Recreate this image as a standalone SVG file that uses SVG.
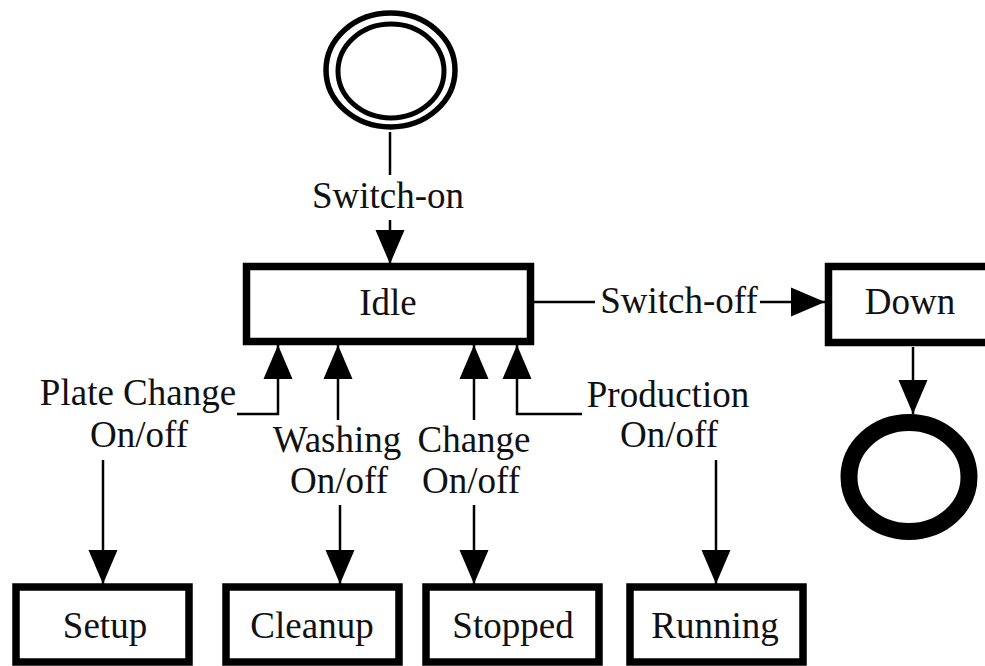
<svg xmlns="http://www.w3.org/2000/svg" width="985" height="666" viewBox="0 0 985 666">
<style>
text{font-family:"Liberation Serif","Times New Roman",serif;font-size:37px;fill:#111;text-anchor:middle}
.box{fill:#fff;stroke:#000;stroke-width:7.5}
.c{fill:none;stroke:#000;stroke-width:2.5}
.a{marker-end:url(#ah)}
</style>
<defs>
<marker id="ah" markerUnits="userSpaceOnUse" markerWidth="34" markerHeight="30" refX="34" refY="14.5" orient="auto" viewBox="0 0 34 29">
<path d="M0,0 L34,14.5 L0,29 z" fill="#000"/>
</marker>
</defs>
<rect width="985" height="666" fill="#fff"/>
<g id="connectors">
<line class="c" x1="390" y1="132" x2="390" y2="175"/>
<line class="c a" x1="390" y1="220" x2="390" y2="264"/>
<line class="c" x1="534" y1="302" x2="595" y2="302"/>
<line class="c a" x1="760" y1="302" x2="825" y2="302"/>
<line class="c a" x1="913" y1="347" x2="913" y2="414"/>
<polyline class="c a" points="237,414 278,414 278,345"/>
<line class="c a" x1="103" y1="460" x2="103" y2="584"/>
<line class="c a" x1="338" y1="420" x2="338" y2="345"/>
<line class="c a" x1="340" y1="505" x2="340" y2="584"/>
<line class="c a" x1="474" y1="420" x2="474" y2="345"/>
<line class="c a" x1="474" y1="505" x2="474" y2="584"/>
<polyline class="c a" points="582,414 517,414 517,345"/>
<line class="c a" x1="716" y1="460" x2="716" y2="584"/>
<text x="388" y="208">Switch-on</text>
<text x="679" y="313">Switch-off</text>
<text x="138" y="405">Plate Change</text>
<text x="139" y="447">On/off</text>
<text x="337" y="452">Washing</text>
<text x="339" y="493">On/off</text>
<text x="474" y="452">Change</text>
<text x="471" y="493">On/off</text>
<text x="668" y="407">Production</text>
<text x="669" y="447">On/off</text>
</g>
<g id="initial">
<ellipse cx="390.5" cy="70" rx="64.5" ry="57" fill="none" stroke="#000" stroke-width="5.5"/>
<ellipse cx="391" cy="71" rx="53" ry="47" fill="none" stroke="#000" stroke-width="5"/>
</g>
<g id="idle">
<rect class="box" x="246.5" y="266.5" width="284" height="75"/>
<text x="388" y="315">Idle</text>
</g>
<g id="down">
<rect class="box" x="828.5" y="266.5" width="200" height="76"/>
<text x="910" y="314">Down</text>
</g>
<g id="final">
<ellipse cx="909" cy="477" rx="60" ry="54.5" fill="none" stroke="#000" stroke-width="17"/>
</g>
<g id="setup">
<rect class="box" x="16" y="587" width="173" height="75"/>
<text x="105" y="638">Setup</text>
</g>
<g id="cleanup">
<rect class="box" x="226" y="587" width="173" height="75"/>
<text x="312" y="638">Cleanup</text>
</g>
<g id="stopped">
<rect class="box" x="426" y="587" width="173" height="75"/>
<text x="513" y="638">Stopped</text>
</g>
<g id="running">
<rect class="box" x="630" y="587" width="173" height="75"/>
<text x="715" y="638">Running</text>
</g>
</svg>
